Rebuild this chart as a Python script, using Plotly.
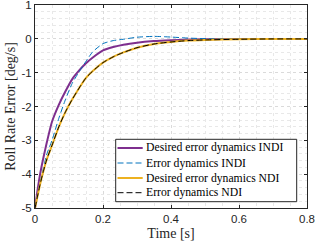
import plotly.graph_objects as go

# Time samples [s]
t = [0, 0.0075, 0.015, 0.025, 0.035, 0.05, 0.07, 0.09, 0.11, 0.13, 0.15, 0.17, 0.2, 0.23,
     0.26, 0.3, 0.35, 0.4, 0.45, 0.5, 0.6, 0.7, 0.8]

# Roll rate error [deg/s]
desired_indi = [-5, -4.47, -4.0, -3.5, -3.05, -2.45, -1.95, -1.54, -1.18, -0.93, -0.72, -0.55,
                -0.34, -0.24, -0.17, -0.11, -0.065, -0.04, -0.02, -0.01, 0, 0, 0]
error_indi = [-5, -4.62, -4.25, -3.8, -3.4, -3.0, -2.35, -1.78, -1.3, -0.97, -0.66, -0.38,
              -0.14, -0.05, -0.01, 0.05, 0.075, 0.055, 0.025, 0.008, 0, 0, 0]
desired_ndi = [-5, -4.65, -4.3, -3.9, -3.55, -3.15, -2.6, -2.15, -1.78, -1.45, -1.15, -0.95,
               -0.7, -0.53, -0.4, -0.26, -0.15, -0.09, -0.05, -0.03, -0.01, 0, 0]
error_ndi = list(desired_ndi)

series_names = ["Desired error dynamics INDI", "Error dynamics INDI",
                "Desired error dynamics NDI", "Error dynamics NDI"]
series_colors = ["#7E2F8E", "#0072BD", "#EDB120", "#000000"]
series_widths = [2, 1, 2, 1]
series_dashes = ["solid", "6px,3px", "solid", "6px,3px"]
series_values = [desired_indi, error_indi, desired_ndi, error_ndi]

x_ticks = [0, 0.2, 0.4, 0.6, 0.8]
x_tick_labels = ["0", "0.2", "0.4", "0.6", "0.8"]
y_ticks = [-5, -4, -3, -2, -1, 0, 1]
y_tick_labels = ["-5", "-4", "-3", "-2", "-1", "0", "1"]

W, H = 316, 247
ML, MR, MT, MB = 35, 9, 5, 39
PW, PH = W - ML - MR, H - MT - MB


def px_x(px):
    return (px - ML) / PW


def px_y(py):
    return (H - MB - py) / PH


fig = go.Figure()
for name, vals, col, wd, dsh in zip(series_names, series_values, series_colors,
                                     series_widths, series_dashes):
    fig.add_trace(go.Scatter(x=t, y=vals, mode="lines", name=name, showlegend=False,
                             line=dict(color=col, width=wd, dash=dsh,
                                       shape="spline", smoothing=0.6)))

axis_common = dict(
    showline=True, linecolor="#262626", linewidth=1, mirror="ticks",
    ticks="inside", ticklen=3, tickcolor="#262626", tickwidth=1,
    showgrid=True, gridcolor="#dadada", griddash="dot", gridwidth=1,
    zeroline=False, automargin=False, ticklabeloverflow="allow",
    tickfont=dict(family="Liberation Sans, Arial, sans-serif", size=11.5, color="#262626"),
)
title_font = dict(family="Liberation Serif, Times New Roman, serif", size=14, color="#262626")

fig.update_xaxes(range=[0, 0.8], tickvals=x_ticks, ticktext=x_tick_labels,
                 minor=dict(dtick=0.05, showgrid=True, gridcolor="#e8e8e8", griddash="dot"),
                 title=dict(text="Time [s]", standoff=4, font=title_font),
                 **axis_common)
fig.update_yaxes(range=[-5, 1.003], tickvals=y_ticks, ticktext=y_tick_labels,
                 minor=dict(dtick=0.2, showgrid=True, gridcolor="#e8e8e8", griddash="dot"),
                 title=dict(text="Roll Rate Error [deg/s]", standoff=2, font=title_font),
                 **axis_common)

# Legend box (drawn as shapes/annotations to match compact row spacing)
leg_x0, leg_x1, leg_y0, leg_y1 = 115.7, 296.7, 139.3, 201.7
row_y = [148, 163, 178, 192.7]
fig.add_shape(type="rect", xref="paper", yref="paper",
              x0=px_x(leg_x0), x1=px_x(leg_x1), y0=px_y(leg_y1), y1=px_y(leg_y0),
              fillcolor="white", line=dict(color="#262626", width=1), layer="above")
for name, col, wd, dsh, ry in zip(series_names, series_colors, series_widths,
                                  series_dashes, row_y):
    fig.add_shape(type="line", xref="paper", yref="paper",
                  x0=px_x(117.5), x1=px_x(142.7), y0=px_y(ry), y1=px_y(ry),
                  line=dict(color=col, width=wd, dash=dsh), layer="above")
    fig.add_annotation(xref="paper", yref="paper", x=px_x(144.0), y=px_y(ry),
                       xanchor="left", yanchor="middle", showarrow=False, text=name,
                       font=dict(family="Liberation Serif, Times New Roman, serif",
                                 size=11.7, color="#000000"))

fig.update_layout(
    width=W, height=H,
    margin=dict(l=ML, r=MR, t=MT, b=MB),
    paper_bgcolor="white", plot_bgcolor="white",
    showlegend=False,
)

fig.write_html("out.html", config={"displayModeBar": False},
               post_script="document.body.style.margin='0';document.body.style.overflow='hidden';")
